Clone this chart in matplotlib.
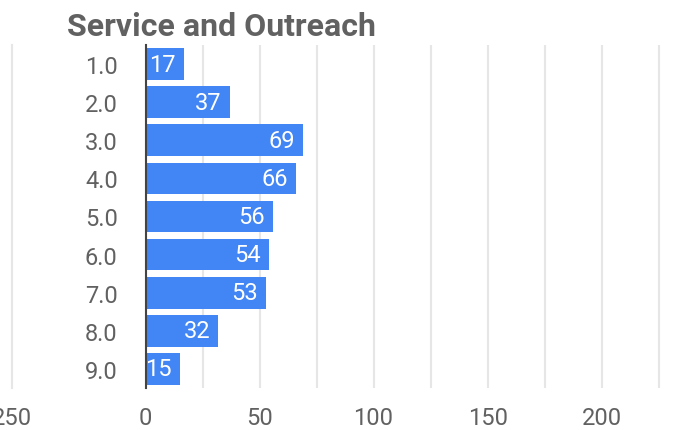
import matplotlib

matplotlib.use("Agg")
import matplotlib.pyplot as plt
from matplotlib.ticker import MultipleLocator

plt.rcParams["font.family"] = ["Roboto", "DejaVu Sans"]

# --- data ----------------------------------------------------------------------
categories = ["1.0", "2.0", "3.0", "4.0", "5.0", "6.0", "7.0", "8.0", "9.0"]
counts = [17, 37, 69, 66, 56, 54, 53, 32, 15]
x_ticks = [0, 50, 100, 150, 200]

BAR = "#4285F4"
GRID = "#e6e6e6"
TEXT = "#616161"
AXIS = "#444444"

W, H = 683, 431
fig = plt.figure(figsize=(W / 100, H / 100), dpi=100)


def fx(px):
    return px / W


def fy(py):
    return 1 - py / H


ax = fig.add_axes([fx(145.5), fy(389), fx(670) - fx(145.5), fy(46) - fy(389)])

pos = list(range(len(categories)))
ax.barh(pos, counts, height=0.83, color=BAR, zorder=2)

for p, v in zip(pos, counts):
    ax.annotate(str(v), (v, p), xytext=(-6, 0), textcoords="offset points",
                ha="right", va="center", color="white", fontsize=17, zorder=3)

ax.set_xlim(0, 230)
ax.set_ylim(len(categories) - 0.5, -0.5)
ax.set_yticks(pos)
ax.set_yticklabels(categories)
ax.set_xticks(x_ticks)
ax.xaxis.set_minor_locator(MultipleLocator(25))
ax.grid(axis="x", which="both", color=GRID, lw=1.5, zorder=0)
ax.tick_params(axis="both", which="both", length=0, labelsize=17, colors=TEXT)
ax.tick_params(axis="y", pad=20)
ax.tick_params(axis="x", pad=13)
for s in ["top", "right", "bottom"]:
    ax.spines[s].set_visible(False)
ax.spines["left"].set_color(AXIS)
ax.spines["left"].set_linewidth(1.5)
ax.spines["left"].set_zorder(4)

# title
fig.text(fx(67), fy(36), "Service and Outreach", fontsize=23, fontweight="bold",
         color=TEXT, ha="left", va="baseline")

# neighbouring chart remnants (cropped at the edges)
fig.add_artist(plt.Line2D([fx(12), fx(12)], [fy(46), fy(389)], color=GRID, lw=1.5))
fig.text(fx(12), fy(425), "250", fontsize=17, color=TEXT, ha="center", va="baseline")
for px, lab in [(12, "250"), (145.5, "0"), (260, "50"), (374, "100"), (489, "150"), (603, "200")]:
    fig.text(fx(px), fy(0.5), lab, fontsize=17, color=TEXT, ha="center", va="baseline")

fig.savefig("out.png", dpi=100, facecolor="white")
